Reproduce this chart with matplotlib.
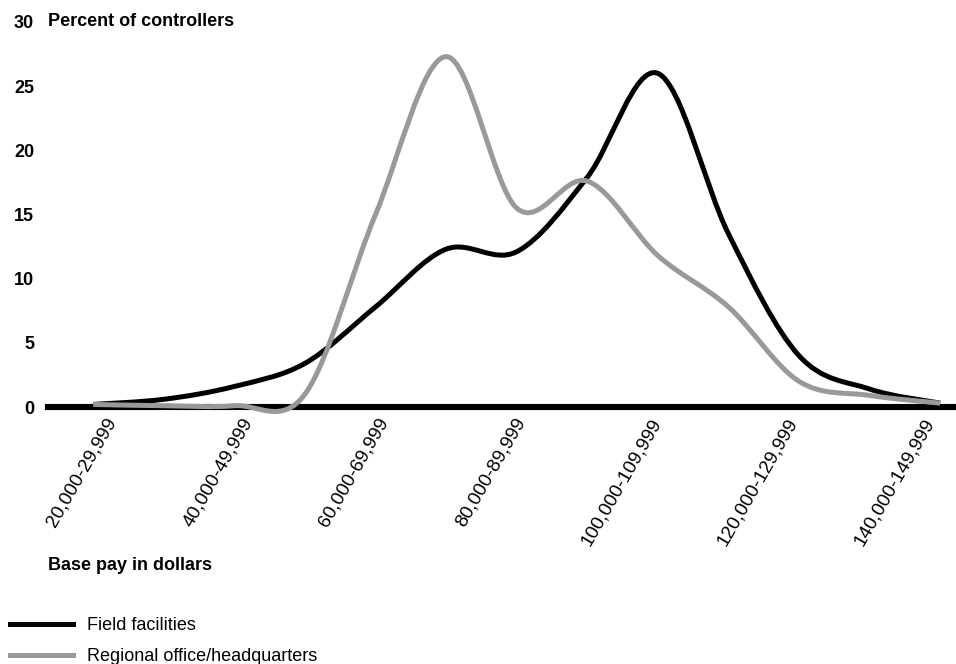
import numpy as np
import matplotlib
matplotlib.use("Agg")
import matplotlib.pyplot as plt
from matplotlib.path import Path
from matplotlib.patches import PathPatch
from matplotlib.lines import Line2D

plt.rcParams.update({
    "font.family": ["Liberation Sans", "DejaVu Sans"],
    "font.size": 13,
})

# pay bands (13 categories), every other one labelled
bands = ["20,000-29,999", "30,000-39,999", "40,000-49,999", "50,000-59,999",
         "60,000-69,999", "70,000-79,999", "80,000-89,999", "90,000-99,999",
         "100,000-109,999", "110,000-119,999", "120,000-129,999",
         "130,000-139,999", "140,000-149,999"]
field = [0.2, 0.6, 1.6, 3.4, 7.8, 12.3, 12.1, 17.9, 26.0, 13.5, 4.0, 1.4, 0.3]
regional = [0.2, 0.1, 0.1, 1.0, 15.0, 27.3, 15.5, 17.6, 11.8, 7.8, 2.0, 0.9, 0.3]
yticks = [0, 5, 10, 15, 20, 25, 30]

BLACK = "#000000"
GRAY = "#999999"


def smooth_path(xs, ys):
    """Excel-style smoothed line (Catmull-Rom as cubic Bezier)."""
    pts = np.column_stack([xs, ys]).astype(float)
    n = len(pts)
    verts = [pts[0]]
    codes = [Path.MOVETO]
    for i in range(n - 1):
        p0 = pts[i - 1] if i > 0 else pts[i]
        p1 = pts[i]
        p2 = pts[i + 1]
        p3 = pts[i + 2] if i + 2 < n else pts[i + 1]
        c1 = p1 + (p2 - p0) / 6.0
        c2 = p2 - (p3 - p1) / 6.0
        verts += [c1, c2, p2]
        codes += [Path.CURVE4] * 3
    return Path(verts, codes)


fig = plt.figure(figsize=(9.56, 6.64), dpi=100)
ax = fig.add_axes([48 / 956, 1 - 407 / 664, 907 / 956, 385 / 664])

x = np.arange(len(bands))
for ys, col in [(field, BLACK), (regional, GRAY)]:
    patch = PathPatch(smooth_path(x, ys), facecolor="none", edgecolor=col,
                      lw=3.6, capstyle="butt", joinstyle="round",
                      clip_on=False, zorder=3)
    ax.add_patch(patch)

ax.axhline(0, color=BLACK, lw=4.4, zorder=2, clip_on=False)

ax.set_xlim(-0.64, 12.21)
ax.set_ylim(0, 30)
for sp in ax.spines.values():
    sp.set_visible(False)

ax.set_yticks(yticks)
ax.set_yticklabels([str(v) for v in yticks], fontweight="bold")
ax.tick_params(axis="y", length=0, pad=10)

# the printed labels sit a little off the curve vertices (slightly tighter
# spacing than the plotted bands), so anchor them on their own positions
label_pos = 0.266 + 0.9663 * x[::2]
ax.set_xticks(label_pos)
ax.set_xticklabels(bands[::2], rotation=60, ha="right",
                   rotation_mode="anchor", va="center", fontsize=13.8)
ax.tick_params(axis="x", length=0, pad=9)

ax.text(0, 30, "Percent of controllers", transform=ax.get_yaxis_transform(),
        ha="left", va="center", fontweight="bold")
fig.text(48 / 956, 1 - 565 / 664, "Base pay in dollars", ha="left",
         va="center", fontweight="bold")

handles = [Line2D([], [], color=BLACK, lw=3.6),
           Line2D([], [], color=GRAY, lw=3.6)]
fig.legend(handles, ["Field facilities", "Regional office/headquarters"],
           loc="center left", bbox_to_anchor=(10 / 956, 1 - 641 / 664),
           frameon=False, borderpad=0, borderaxespad=0,
           handlelength=3.5, handletextpad=0.75, labelspacing=0.78)

fig.savefig("out.png", dpi=100)
